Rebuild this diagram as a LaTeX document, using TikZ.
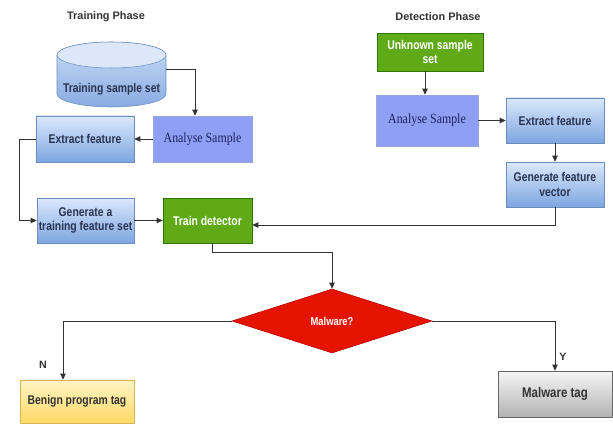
\documentclass[tikz,border=0pt]{standalone}
\usepackage{fontspec}
\setmainfont{Liberation Sans}
\newfontfamily\narrowsans[FakeStretch=0.82]{Liberation Sans}
\newfontfamily\narrowserif[FakeStretch=0.85]{Liberation Serif}
\usetikzlibrary{arrows.meta,shapes.geometric}

\definecolor{bluetop}{HTML}{DAE8FC}
\definecolor{bluebot}{HTML}{7EA6E0}
\definecolor{blueline}{HTML}{6C8EBF}
\definecolor{bluetext}{HTML}{2A3450}
\definecolor{cyltop}{HTML}{CADCF6}
\definecolor{cylbot}{HTML}{88ABE2}
\definecolor{cyllid}{HTML}{DCE8FA}
\definecolor{peri}{HTML}{8FA0F4}
\definecolor{periline}{HTML}{9AA5D8}
\definecolor{peritext}{HTML}{1C2260}
\definecolor{greenfill}{HTML}{60A917}
\definecolor{greenline}{HTML}{2D7600}
\definecolor{redfill}{HTML}{E51400}
\definecolor{redline}{HTML}{B20000}
\definecolor{yellowtop}{HTML}{FFF4C3}
\definecolor{yellowbot}{HTML}{FFD966}
\definecolor{yellowline}{HTML}{D6B656}
\definecolor{graytop}{HTML}{F5F5F5}
\definecolor{graybot}{HTML}{B3B3B3}
\definecolor{grayline}{HTML}{666666}
\definecolor{darktext}{HTML}{333333}
\definecolor{lineclr}{HTML}{333333}

\tikzset{
  base/.style={rectangle, inner sep=1pt, align=center, font=\narrowsans\bfseries\fontsize{9.5}{11}\selectfont},
  bluebox/.style={base, draw=blueline, top color=bluetop, bottom color=bluebot, text=bluetext},
  samplebox/.style={base, draw=periline, fill=peri, text=peritext, font=\narrowserif\fontsize{10.5}{12}\selectfont},
  greenbox/.style={base, draw=greenline, fill=greenfill, text=white},
  decision/.style={diamond, aspect=3.1, inner sep=0pt, draw=redline, fill=redfill, text=white, font=\narrowsans\bfseries\fontsize{8.6}{10}\selectfont},
  benignbox/.style={base, draw=yellowline, top color=yellowtop, bottom color=yellowbot, text=darktext},
  tagbox/.style={base, draw=grayline, top color=graytop, bottom color=graybot, text=darktext, font=\narrowsans\bfseries\fontsize{10.5}{12}\selectfont},
  phase/.style={font=\bfseries\fontsize{8.2}{10}\selectfont, text=darktext},
  yn/.style={font=\bfseries\fontsize{8}{10}\selectfont, text=darktext},
  arr/.style={draw=lineclr, line width=0.7pt, -{Triangle[length=4.5pt,width=4pt]}}
}

\begin{document}
\begin{tikzpicture}[x=0.75pt,y=-0.75pt]
\useasboundingbox (0,0) rectangle (613,424);

\node[phase] (trainphase) at (106,17) {Training Phase};
\node[phase] (detectphase) at (438,17) {Detection Phase};

\node[rectangle, inner sep=0pt, minimum width=81.75pt, minimum height=48.75pt] (trainset) at (111.5,74.5) {};
\path[draw=blueline, top color=cyltop, bottom color=cylbot] (57,55) -- (57,94) arc (180:360:40.875pt and 9.75pt) -- (166,55) arc (0:180:40.875pt and 9.75pt) -- cycle;
\draw[blueline, fill=cyllid] (111.5,55) ellipse (40.875pt and 9.75pt);
\node[base, text=bluetext] (trainsetlabel) at (111.5,89) {Training sample set};

\node[samplebox, minimum width=74.25pt, minimum height=34.5pt] (anlA) at (202.5,139) {Analyse Sample};
\node[bluebox, minimum width=73.5pt, minimum height=34.5pt] (extA) at (85,139) {Extract feature};
\node[bluebox, minimum width=72.75pt, minimum height=33.75pt] (genA) at (85.5,220.5) {Generate a\\training feature set};
\node[greenbox, minimum width=66.75pt, minimum height=33.75pt] (train) at (207.5,220.5) {Train detector};

\node[greenbox, minimum width=79.5pt, minimum height=28.5pt] (unk) at (430,52) {Unknown sample\\set};
\node[samplebox, minimum width=76.5pt, minimum height=38.25pt] (anlB) at (427,120.5) {Analyse Sample};
\node[bluebox, minimum width=73.5pt, minimum height=33.75pt] (extB) at (555,120.5) {Extract feature};
\node[bluebox, minimum width=73.5pt, minimum height=33.75pt] (genB) at (555,184.5) {Generate feature\\vector};

\node[decision, minimum width=150pt, minimum height=48pt] (mal) at (332,321) {Malware?};
\node[benignbox, minimum width=85.5pt, minimum height=32.25pt] (benign) at (77,401.5) {Benign program tag};
\node[tagbox, minimum width=85.5pt, minimum height=34.5pt] (maltag) at (555,394) {Malware tag};

\node[yn] (nlabel) at (43,365) {N};
\node[yn] (ylabel) at (563,357) {Y};

\draw[arr] ([yshift=3.4pt]trainset.east) -| ([xshift=-5.6pt]anlA.north);
\draw[arr] (anlA.west) -- (extA.east);
\draw[arr] (extA.west) -- ++(-16,0) |- (genA.west);
\draw[arr] (genA.east) -- (train.west);

\draw[arr] ([xshift=-3.75pt]unk.south) -- ([xshift=-3.75pt]unk.south |- anlB.north);
\draw[arr] (anlB.east) -- (extB.west);
\draw[arr] (extB.south) -- (genB.north);
\draw[arr] (genB.south) |- ([yshift=-3.4pt]train.east);

\draw[arr] ([xshift=3.4pt]train.south) -- ++(0,9) -| (mal.north);
\draw[arr] (mal.west) -| ([xshift=-10.5pt]benign.north);
\draw[arr] (mal.east) -| (maltag.north);
\end{tikzpicture}
\end{document}
